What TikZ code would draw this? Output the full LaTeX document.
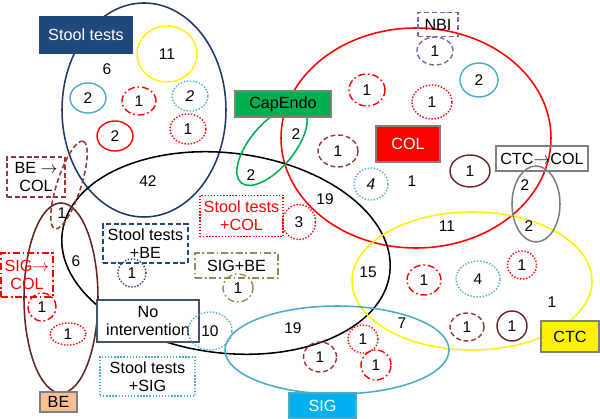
\documentclass[tikz,border=0pt]{standalone}
\usepackage{fontspec}
\setmainfont{Liberation Sans}
\usetikzlibrary{shapes.geometric}

\definecolor{stoolNavy}{HTML}{1F3864}
\definecolor{stoolBlue}{HTML}{1F497D}
\definecolor{sigCyan}{HTML}{4BACC6}
\definecolor{sigFill}{HTML}{00B0F0}
\definecolor{beBrown}{HTML}{632523}
\definecolor{dashBrown}{HTML}{953735}
\definecolor{capGreen}{HTML}{00B050}
\definecolor{sbOlive}{HTML}{948A54}
\definecolor{nbiPurple}{HTML}{8064A2}
\definecolor{beFill}{HTML}{FAC090}
\definecolor{boxGray}{HTML}{7F7F7F}
\definecolor{noBorder}{HTML}{44546A}

\newcommand{\labsize}{\fontsize{11.5}{12.8}\selectfont}
\newcommand{\numsize}{\fontsize{11}{12}\selectfont}
\newcommand{\toarr}{$\rightarrow$}

\tikzset{
	big/.style={line width=1.1pt},
	cnt/.style 2 args={ellipse, draw, line width=1pt, inner sep=0pt,
		minimum width=#1*0.7113pt, minimum height=#2*0.7113pt, font=\numsize},
	num/.style={inner sep=0pt, font=\numsize},
	lab/.style 2 args={rectangle, draw, line width=0.8pt, inner sep=0pt, align=center,
		minimum width=#1*0.7113pt, minimum height=#2*0.7113pt, font=\labsize},
	dotline/.style={dash pattern=on 1pt off 1.2pt},
	dashline/.style={dash pattern=on 3.5pt off 2pt},
	dotdash/.style={dash pattern=on 5pt off 2pt on 1.2pt off 2pt},
}

\begin{document}
\begin{tikzpicture}[x=0.025cm, y=-0.025cm]
			%%%%% START %%%%%
			\useasboundingbox (0,0) rectangle (600,419);
			
			% big sets
			\draw[big, stoolNavy] (144,110) ellipse (82 and 107);
			\draw[big, red] (416,138) ellipse (135 and 110);
			\draw[big, black, rotate around={-7:(226,253)}] (226,253) ellipse (165 and 100);
			\draw[big, yellow] (472,281) ellipse (120 and 69);
			\draw[big, sigCyan] (337,350) ellipse (112 and 44);
			\draw[big, beBrown] (61,298) ellipse (37 and 95);
			\draw[big, capGreen, rotate around={50:(272,146)}] (272,146) ellipse (48 and 22);
			\draw[big, dashBrown, dashline, rotate around={72:(69,185)}] (69,185) ellipse (46 and 12);
			\draw[big, boxGray] (536,204) ellipse (24 and 38);
			
			% plain counts
			\node[num] (n6a) at (107,69) {6};
			\node[num] (n42) at (148,181) {42};
			\node[num] (n2a) at (296,134) {2};
			\node[num] (n2b) at (251,175) {2};
			\node[num] (n19a) at (325,199) {19};
			\node[num] (n1col) at (412,181) {1};
			\node[num] (n2c) at (525,185) {2};
			\node[num] (n2d) at (529,226) {2};
			\node[num] (n11) at (447,226) {11};
			\node[num] (n15) at (368,272) {15};
			\node[num] (n19b) at (293,328) {19};
			\node[num] (n7) at (402,323) {7};
			\node[num] (n1ctc) at (552,302) {1};
			\node[num] (n6b) at (76,261) {6};
			\node[num] (n1be) at (62,213) {1};
			
			% labels
			\node[lab={92}{36}, fill=stoolBlue, draw=stoolBlue, text=white] (stool) at (86,35) {Stool tests};
			\node[lab={58}{40}, dashBrown, dashline, text=black] (becol) at (36,177) {BE \toarr\\COL};
			\node[lab={52}{44}, red, dotdash] (sigcol) at (27,275) {SIG\toarr\\COL};
			\node[lab={37}{20}, fill=beFill, draw=boxGray] (be) at (58.5,402) {BE};
			\node[lab={85}{39}, stoolBlue, dashline, text=black] (stbe) at (145.5,243.5) {Stool tests\\+BE};
			\node[lab={83}{41}, red, dotline] (stcol) at (241.5,216) {Stool tests\\+COL};
			\node[lab={83}{25}, sbOlive, dotdash, text=black] (sigbe) at (236.5,265.5) {SIG+BE};
			\node[lab={102}{42}, fill=white, draw=noBorder] (noint) at (148,321) {No\\intervention};
			\node[lab={95}{39}, sigCyan, dotline, text=black] (stsig) at (147.5,376.5) {Stool tests\\+SIG};
			\node[lab={96}{26}, fill=capGreen, draw=boxGray] (cap) at (283,104) {CapEndo};
			\node[lab={64}{36}, fill=red, draw=boxGray, text=white] (col) at (408,144) {COL};
			\node[lab={40}{24}, nbiPurple, dashline, text=black] (nbi) at (438,24.5) {NBI};
			\node[lab={92}{25}, draw=boxGray] (ctccol) at (542,158.5) {CTC\toarr COL};
			\node[lab={58}{31}, fill=yellow, draw=boxGray] (ctc) at (570,336.5) {CTC};
			\node[lab={67}{25}, fill=sigFill, draw=sigCyan, text=white] (sig) at (322.5,405.5) {SIG};
			
			% small subgroups
			\node[cnt={60}{56}, yellow] (c11) at (167,54) {\color{black}11};
			\node[cnt={36}{30}, sigCyan, text=black] (c2a) at (88,98) {2};
			\node[cnt={34}{28}, red, dotdash, text=black] (c1a) at (139,101) {1};
			\node[cnt={36}{30}, sigCyan, dotline, text=black] (c2b) at (190,96) {\itshape 2};
			\node[cnt={36}{30}, red, dotline, text=black] (c1b) at (188,129) {1};
			\node[cnt={36}{30}, red, text=black] (c2c) at (115,136) {2};
			\node[cnt={28}{28}, stoolBlue, dotline, text=black] (c1c) at (132,273) {1};
			\node[cnt={33}{35}, red, dotline, text=black] (c3) at (299,222) {3};
			\node[cnt={30}{28}, sbOlive, dotdash, text=black] (c1d) at (238,288) {1};
			\node[cnt={28}{28}, red, dotdash, text=black] (c1e) at (42,307) {1};
			\node[cnt={36}{22}, red, dotline, text=black] (c1f) at (68,334) {1};
			\node[cnt={36}{28}, nbiPurple, dashline, text=black] (c1g) at (435,51) {1};
			\node[cnt={38}{34}, sigCyan, text=black] (c2d) at (479,80) {2};
			\node[cnt={40}{34}, red, dotline, text=black] (c1h) at (432,102) {1};
			\node[cnt={36}{32}, red, dotdash, text=black] (c1i) at (367,90) {1};
			\node[cnt={40}{32}, dashBrown, dashline, text=black] (c1j) at (338,151) {1};
			\node[cnt={34}{32}, sigCyan, dotline, text=black] (c4a) at (371,184) {\itshape 4};
			\node[cnt={40}{32}, beBrown, text=black] (c1k) at (470,171) {1};
			\node[cnt={34}{30}, red, dotdash, text=black] (c1l) at (424,280) {1};
			\node[cnt={44}{36}, sigCyan, dotline, text=black] (c4b) at (478,279) {4};
			\node[cnt={29}{28}, red, dotline, text=black] (c1m) at (522,265) {1};
			\node[cnt={34}{28}, dashBrown, dashline, text=black] (c1n) at (467,327) {1};
			\node[cnt={30}{30}, beBrown, text=black] (c1o) at (512,326) {1};
			\node[cnt={44}{38}, sigCyan, dotline, text=black] (c10) at (210,331) {10};
			\node[cnt={33}{30}, dashBrown, dashline, text=black] (c1p) at (320,357) {1};
			\node[cnt={30}{28}, red, dotline, text=black] (c1q) at (363,339) {1};
			\node[cnt={30}{30}, red, dotdash, text=black] (c1r) at (376,365) {1};
			
			%%%%% END %%%%%
\end{tikzpicture}
\end{document}
